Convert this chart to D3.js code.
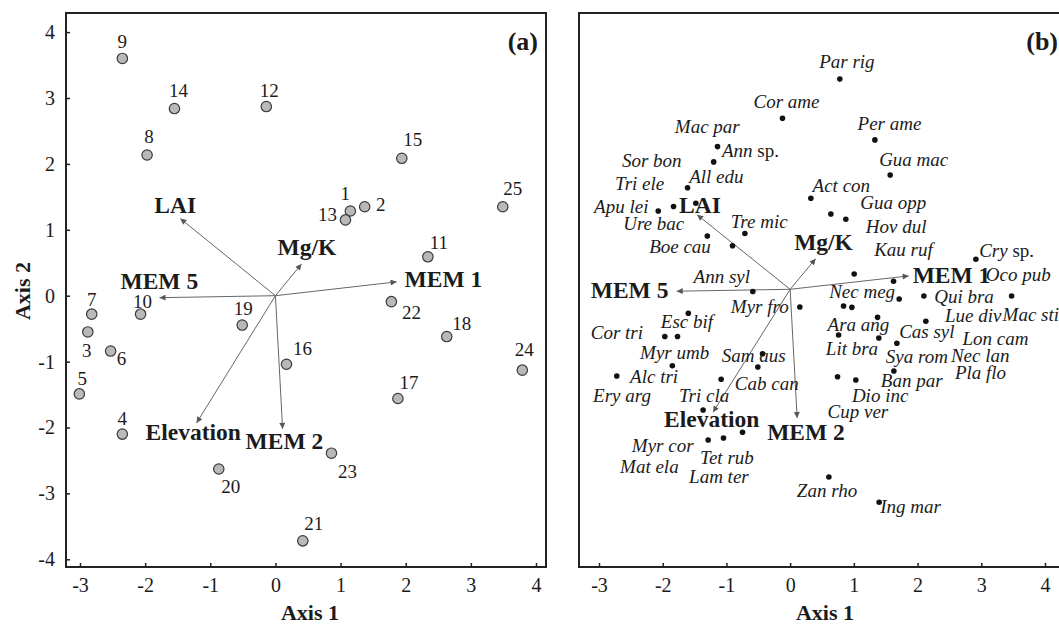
<!DOCTYPE html>
<html lang="en">
<head>
    <meta charset="UTF-8">
    <script src="https://cdn.jsdelivr.net/npm/d3@7"></script>
    <title>RDA biplots</title>
    <style>
        body { margin: 0; background: #fff; }
        svg text { font-family: "Liberation Serif", "Times New Roman", serif; fill: #1b1b1b; }
        .tick-label { font-size: 20px; }
        .site-label { font-size: 19px; }
        .sp-label { font-size: 19px; font-style: italic; }
        .var-label { font-size: 23.5px; font-weight: bold; }
        .axis-title { font-size: 22px; font-weight: bold; }
        .panel-tag { font-size: 26px; font-weight: bold; }
    </style>
</head>
<body>
<svg id="chart" width="1059" height="624"></svg>
<script>
    // ---- data ----
    // site scores (panel a)
    const siteIds = ["1", "2", "3", "4", "5", "6", "7", "8", "9", "10", "11", "12", "13",
        "14", "15", "16", "17", "18", "19", "20", "21", "22", "23", "24", "25"];
    const siteX = [1.15, 1.37, -2.88, -2.35, -3.01, -2.53, -2.82, -1.97, -2.35, -2.07, 2.34, -0.14, 1.075,
        -1.55, 1.94, 0.17, 1.88, 2.63, -0.51, -0.87, 0.42, 1.78, 0.86, 3.79, 3.49];
    const siteY = [1.285, 1.35, -0.55, -2.10, -1.49, -0.84, -0.28, 2.135, 3.60, -0.28, 0.59, 2.87, 1.15,
        2.84, 2.085, -1.04, -1.56, -0.62, -0.445, -2.63, -3.72, -0.09, -2.39, -1.13, 1.35];

    // explanatory variables (same vectors in both panels)
    const varNames = ["LAI", "MEM 5", "Mg/K", "MEM 1", "Elevation", "MEM 2"];
    const varX = [-1.46, -1.78, 0.40, 1.86, -1.21, 0.11];
    const varY = [1.17, -0.03, 0.48, 0.21, -1.93, -2.02];

    // species scores (panel b), null = point outside the picture
    const spNames = ["Par rig", "Cor ame", "Per ame", "Mac par", "Ann sp.", "Sor bon", "All edu", "Tri ele",
        "Apu lei", "Ure bac", "Tre mic", "Boe cau", "Gua mac", "Act con", "Gua opp", "Hov dul", "Kau ruf",
        "Cry sp.", "Lon cam", "Ann syl", "Myr fro", "Nec meg", "Qui bra", "Oco pub", "Mac sti", "Lue div",
        "Ara ang", "Cas syl", "Lit bra", "Sya rom", "Nec lan", "Pla flo", "Ban par", "Dio inc", "Cup ver",
        "Zan rho", "Ing mar", "Esc bif", "Cor tri", "Ery arg", "Myr umb", "Sam aus", "Cab can", "Alc tri",
        "Tri cla", "Mat ela", "Myr cor", "Tet rub", "Lam ter"];
    const spX = [0.78, -0.12, 1.33, -1.14, -1.20, -1.61, -1.48, -1.83,
        -2.07, -1.30, -0.71, -0.904, 1.57, 0.325, 0.639, 0.874, 1.005,
        2.915, 1.623, -0.586, 0.152, 1.711, 2.099, 3.476, null, 2.13,
        1.372, 1.675, 0.76, 1.392, 0.838, 0.969, 1.628, 1.031, 0.744,
        0.608, 1.397, -1.598, -1.967, -1.768, -1.849, -0.433, -0.507, -2.721,
        -1.083, -1.366, -1.287, -1.046, -0.747];
    const spY = [3.30, 2.685, 2.345, 2.24, 2.00, 1.595, 1.35, 1.30,
        1.23, 0.837, 0.875, 0.684, 1.794, 1.43, 1.182, 1.099, 0.24,
        0.471, 0.126, -0.035, -0.278, -0.152, -0.105, -0.105, null, -0.502,
        -0.44, -0.848, -0.717, -0.765, -0.262, -0.283, -1.283, -1.424, -1.372,
        -2.947, -3.344, -0.377, -0.741, -0.741, -1.199, -1.011, -1.22, -1.361,
        -1.413, -1.895, -2.366, -2.334, -2.245];

    const xTicks = [-3, -2, -1, 0, 1, 2, 3, 4];
    const yTicks = [-4, -3, -2, -1, 0, 1, 2, 3, 4];

    // ---- layout ----
    // label nudges for site numbers, px from the point (text centred)
    const siteNudge = [[-5, -11], [16, 4], [-1, 25], [0, -9], [3, -9], [11, 14], [0, -8], [2, -12], [0, -10],
        [2, -6], [11, -8], [3, -10], [-18, 1], [4, -12], [11, -12], [16, -9], [11, -10], [15, -7], [1, -10],
        [12, 24], [11, -11], [20, 17], [16, 25], [2, -14], [10, -12]];
    // variable labels, px from the arrow tip (text start, baseline)
    const varNudgeA = [[-26, -6], [-39, -9], [-24, -9], [8, 5], [-51, 17], [-37, 20]];
    const varNudgeB = [[-18, -1.5], [-86, 7], [-21.5, -8.7], [4, 7.4], [-49, 14.5], [-30, 22]];
    // species label anchors in axis units (text start, baseline)
    const spLabelX = [0.455, -0.575, 1.058, -1.81, -1.07, -2.64, -1.585, -2.747,
        -3.077, -2.62, -0.931, -2.213, 1.397, 0.352, 1.099, 1.188, 1.319,
        2.967, 2.706, -1.516, -0.931, 0.612, 2.261, 3.072, 3.334, 2.429,
        0.587, 1.711, 0.56, 1.502, 2.523, 2.586, 1.424, 0.969, 0.587,
        0.105, 1.413, -2.03, -3.129, -3.093, -2.355, -1.072, -0.868, -2.512,
        -1.743, -2.669, -2.485, -1.413, -1.586];
    const spLabelY = [3.47, 2.84, 2.50, 2.46, 2.08, 1.925, 1.673, 1.559,
        1.203, 0.931, 0.958, 0.565, 1.936, 1.532, 1.256, 0.879, 0.527,
        0.512, -0.874, 0.094, -0.367, -0.141, -0.215, 0.135, -0.493, -0.513,
        -0.655, -0.769, -1.031, -1.152, -1.137, -1.413, -1.538, -1.765, -2.025,
        -3.268, -3.516, -0.60, -0.788, -1.765, -1.099, -1.149, -1.576, -1.466,
        -1.765, -2.879, -2.549, -2.747, -3.036];

    const svg = d3.select("#chart");

    svg.append("defs").append("marker")
        .attr("id", "head")
        .attr("viewBox", "0 0 10 10")
        .attr("refX", 10).attr("refY", 5)
        .attr("markerUnits", "userSpaceOnUse")
        .attr("markerWidth", 7).attr("markerHeight", 6)
        .attr("orient", "auto")
        .append("path")
        .attr("d", "M0,0L10,5L0,10z")
        .attr("fill", "#555");

    // Builds one panel: frame, axes and the variable arrows
    const makePanel = (opts) => {
        const [left, top, right, bottom] = opts.frame;
        const x = d3.scaleLinear().domain([-3, 4]).range(opts.xRange);
        const y = d3.scaleLinear().domain([-4, 4]).range(opts.yRange);
        const g = svg.append("g");

        const xAxis = g.append("g")
            .attr("transform", `translate(0,${bottom})`)
            .call(d3.axisBottom(x).tickValues(xTicks).tickSizeInner(-4).tickSizeOuter(0).tickFormat(d => String(d)));
        xAxis.select(".domain").remove();
        xAxis.selectAll("line").attr("stroke", "#222").attr("stroke-width", 1.5);
        xAxis.selectAll("text").attr("class", "tick-label").attr("y", 25).attr("dy", null).attr("fill", null);

        if (opts.yAxis) {
            const yAxis = g.append("g")
                .attr("transform", `translate(${left},0)`)
                .call(d3.axisLeft(y).tickValues(yTicks).tickSizeInner(-4).tickSizeOuter(0).tickFormat(d => String(d)));
            yAxis.select(".domain").remove();
            yAxis.selectAll("line").attr("stroke", "#222").attr("stroke-width", 1.5);
            yAxis.selectAll("text").attr("class", "tick-label").attr("x", -11).attr("fill", null);
        }

        g.append("rect")
            .attr("x", left).attr("y", top)
            .attr("width", right - left).attr("height", bottom - top)
            .attr("fill", "none").attr("stroke", "#222").attr("stroke-width", 2);

        // arrows
        g.selectAll(".arrow")
            .data(varNames)
            .enter()
            .append("line")
            .attr("x1", x(0)).attr("y1", y(0))
            .attr("x2", (d, i) => x(varX[i]))
            .attr("y2", (d, i) => y(varY[i]))
            .attr("stroke", "#666").attr("stroke-width", 1)
            .attr("marker-end", "url(#head)");

        g.selectAll(".var-label")
            .data(varNames)
            .enter()
            .append("text")
            .attr("class", "var-label")
            .attr("x", (d, i) => x(varX[i]) + opts.varNudge[i][0])
            .attr("y", (d, i) => y(varY[i]) + opts.varNudge[i][1])
            .text(d => d);

        g.append("text")
            .attr("class", "axis-title")
            .attr("x", opts.titleX).attr("y", 620)
            .attr("text-anchor", "middle")
            .text("Axis 1");

        g.append("text")
            .attr("class", "panel-tag")
            .attr("x", opts.tag[0]).attr("y", opts.tag[1])
            .attr("text-anchor", "end")
            .text(opts.tagText);

        return { g, x, y };
    };

    // ---- panel (a): sites ----
    const pa = makePanel({
        frame: [66, 13, 546, 567],
        xRange: [80, 536], yRange: [559.3, 32.1],
        yAxis: true, varNudge: varNudgeA,
        titleX: 310, tag: [538, 50], tagText: "(a)"
    });

    pa.g.selectAll(".site")
        .data(siteIds)
        .enter()
        .append("circle")
        .attr("cx", (d, i) => pa.x(siteX[i]))
        .attr("cy", (d, i) => pa.y(siteY[i]))
        .attr("r", 5.2)
        .attr("fill", "#b9b9b9")
        .attr("stroke", "#3a3a3a")
        .attr("stroke-width", 1.2);

    pa.g.selectAll(".site-label")
        .data(siteIds)
        .enter()
        .append("text")
        .attr("class", "site-label")
        .attr("text-anchor", "middle")
        .attr("x", (d, i) => pa.x(siteX[i]) + siteNudge[i][0])
        .attr("y", (d, i) => pa.y(siteY[i]) + siteNudge[i][1])
        .text(d => d);

    svg.append("text")
        .attr("class", "axis-title")
        .attr("transform", "translate(30,291) rotate(-90)")
        .attr("text-anchor", "middle")
        .text("Axis 2");

    // ---- panel (b): species ----
    const pb = makePanel({
        frame: [579, 13, 1071, 567],
        xRange: [599, 1045], yRange: [544.1, 34.5],
        yAxis: false, varNudge: varNudgeB,
        titleX: 825, tag: [1058, 50], tagText: "(b)"
    });

    const spIdx = d3.range(spNames.length);

    pb.g.selectAll(".sp-dot")
        .data(spIdx.filter(i => spX[i] !== null))
        .enter()
        .append("circle")
        .attr("cx", i => pb.x(spX[i]))
        .attr("cy", i => pb.y(spY[i]))
        .attr("r", 2.8)
        .attr("fill", "#111");

    const spText = pb.g.selectAll(".sp-label")
        .data(spIdx)
        .enter()
        .append("text")
        .attr("class", "sp-label")
        .attr("x", i => pb.x(spLabelX[i]))
        .attr("y", i => pb.y(spLabelY[i]));

    // genus-only names keep "sp." upright
    spText.each(function (i) {
        const name = spNames[i];
        const t = d3.select(this);
        if (name.endsWith(" sp.")) {
            t.append("tspan").text(name.slice(0, -4));
            t.append("tspan").style("font-style", "normal").text(" sp.");
        } else {
            t.text(name);
        }
    });
</script>
</body>
</html>
